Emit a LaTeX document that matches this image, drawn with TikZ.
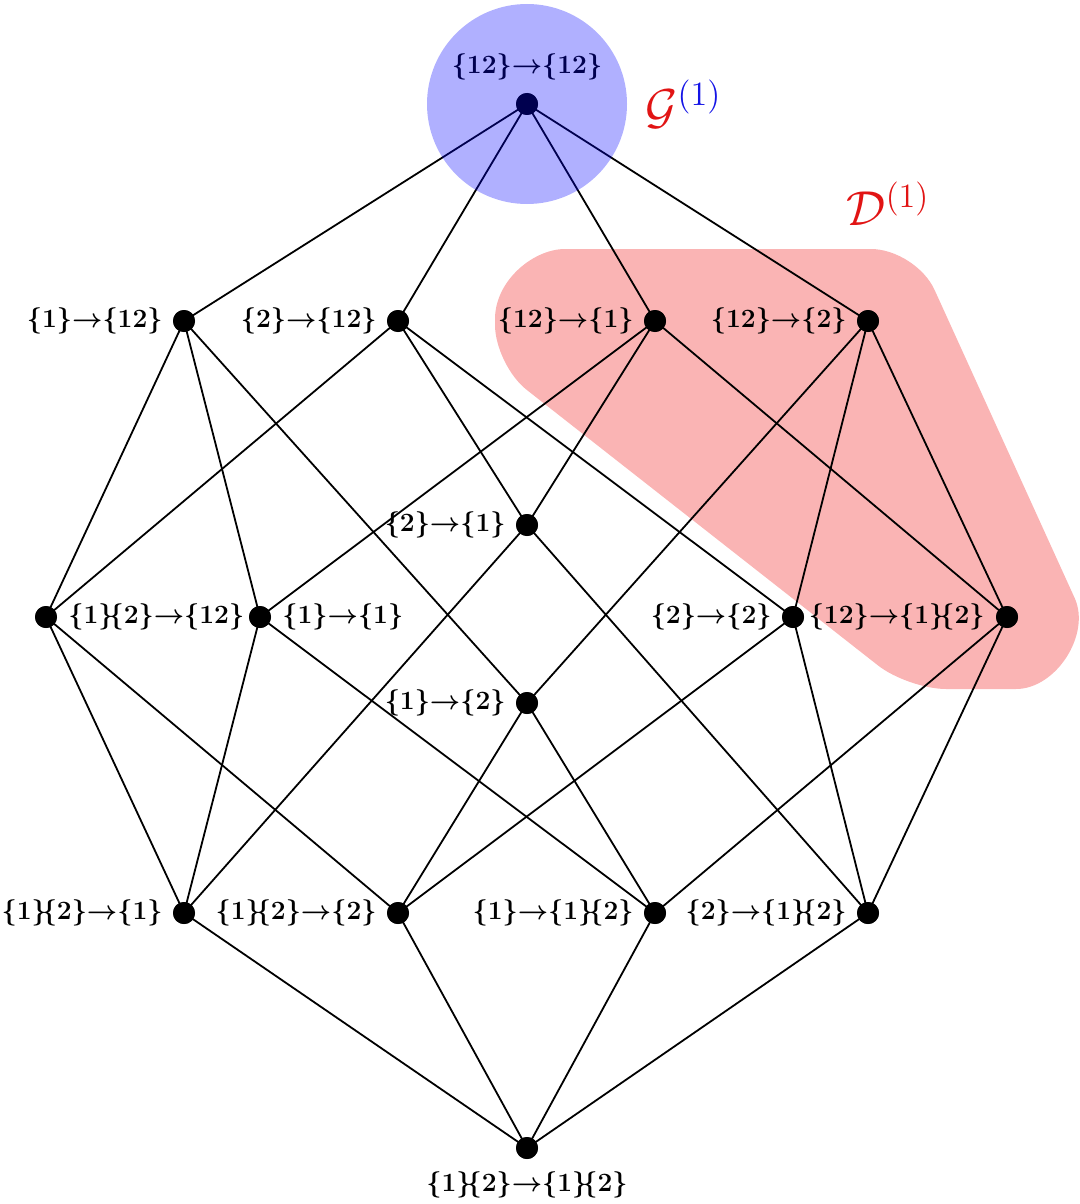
\documentclass[tikz,border=0pt]{standalone}
\usepackage{amsmath}
\definecolor{pinkfill}{RGB}{250,180,180}
\definecolor{gblue}{RGB}{20,20,230}
\definecolor{gred}{RGB}{225,20,20}
\newcommand{\bb}{\}\mkern-3mu\{}
\begin{document}
\begin{tikzpicture}[x=0.5pt,y=-0.5pt,
  dot/.style={circle,fill=black,inner sep=0pt,minimum size=11pt},
  lab/.style={inner sep=0pt,scale=1.1,font=\fontsize{12}{14}\selectfont\boldmath},
  edge/.style={line width=0.9pt},
  big/.style={inner sep=0pt,scale=1.42,font=\LARGE}]
\useasboundingbox (0,0) rectangle (1080,1204);
% pink region
\fill[pinkfill] (565,249) -- (871,249) .. controls (895.8,249) and (924.4,267.4) .. (934.6,290)
  -- (1074.6,597.9) .. controls (1091.2,634.3) and (1056,689) .. (1016,689)
  -- (946,689) .. controls (925.1,689) and (894.5,678.4) .. (878.1,665.5)
  -- (526.5,389.7) .. controls (509.2,376.1) and (495,347) .. (495,325)
  -- (495,319) .. controls (495,280.5) and (533.5,249) .. (565,249) -- cycle;
% nodes
\node[dot] (t)  at (527,104) {};
\node[dot] (a1) at (184,321) {};
\node[dot] (a2) at (398,321) {};
\node[dot] (a3) at (655,321) {};
\node[dot] (a4) at (868,321) {};
\node[dot] (m1) at (527,525) {};
\node[dot] (b1) at (46,617) {};
\node[dot] (b2) at (260,617) {};
\node[dot] (b3) at (793,617) {};
\node[dot] (b4) at (1007,617) {};
\node[dot] (m2) at (527,703) {};
\node[dot] (c1) at (184,913) {};
\node[dot] (c2) at (398,913) {};
\node[dot] (c3) at (655,913) {};
\node[dot] (c4) at (868,913) {};
\node[dot] (z)  at (527,1148) {};
% edges
\foreach \u/\v in {t/a1,t/a2,t/a3,t/a4,
  a1/b1,a1/b2,a1/m2, a2/b1,a2/m1,a2/b3, a3/b2,a3/m1,a3/b4, a4/m2,a4/b3,a4/b4,
  m1/c1,m1/c4, m2/c2,m2/c3, b1/c1,b1/c2, b2/c1,b2/c3, b3/c2,b3/c4, b4/c3,b4/c4,
  c1/z,c2/z,c3/z,c4/z}
  \draw[edge] (\u.center) -- (\v.center);
% redraw dots on top
\foreach \n in {t,a1,a2,a3,a4,m1,b1,b2,b3,b4,m2,c1,c2,c3,c4,z}
  \fill (\n.center) circle (11);
% labels
\node[lab] (lt) at (527,67) {$\{12\}{\to}\{12\}$};
\node[lab,anchor=east] (la1) at (163,321) {$\{1\}{\to}\{12\}$};
\node[lab,anchor=east] (la2) at (377,321) {$\{2\}{\to}\{12\}$};
\node[lab,anchor=east] (la3) at (634,321) {$\{12\}{\to}\{1\}$};
\node[lab,anchor=east] (la4) at (847,321) {$\{12\}{\to}\{2\}$};
\node[lab,anchor=east] (lm1) at (506,525) {$\{2\}{\to}\{1\}$};
\node[lab,anchor=west] (lb1) at (68,617) {$\{1\bb2\}{\to}\{12\}$};
\node[lab,anchor=west] (lb2) at (282,617) {$\{1\}{\to}\{1\}$};
\node[lab,anchor=east] (lb3) at (772,617) {$\{2\}{\to}\{2\}$};
\node[lab,anchor=east] (lb4) at (985,617) {$\{12\}{\to}\{1\bb2\}$};
\node[lab,anchor=east] (lm2) at (506,703) {$\{1\}{\to}\{2\}$};
\node[lab,anchor=east] (lc1) at (163,913) {$\{1\bb2\}{\to}\{1\}$};
\node[lab,anchor=east] (lc2) at (377,913) {$\{1\bb2\}{\to}\{2\}$};
\node[lab,anchor=east] (lc3) at (634,913) {$\{1\}{\to}\{1\bb2\}$};
\node[lab,anchor=east] (lc4) at (847,913) {$\{2\}{\to}\{1\bb2\}$};
\node[lab] (lz) at (527,1185) {$\{1\bb2\}{\to}\{1\bb2\}$};
% blue circle on top
\fill[blue,opacity=0.31] (t.center) circle (100);
% set labels
\node[big,anchor=west] (G) at (645,104) {$\color{gred}\mathcal{G}^{\color{gblue}(1)}$};
\node[big,anchor=west] (D) at (846,204) {$\color{gred}\mathcal{D}^{(1)}$};
\end{tikzpicture}
\end{document}
